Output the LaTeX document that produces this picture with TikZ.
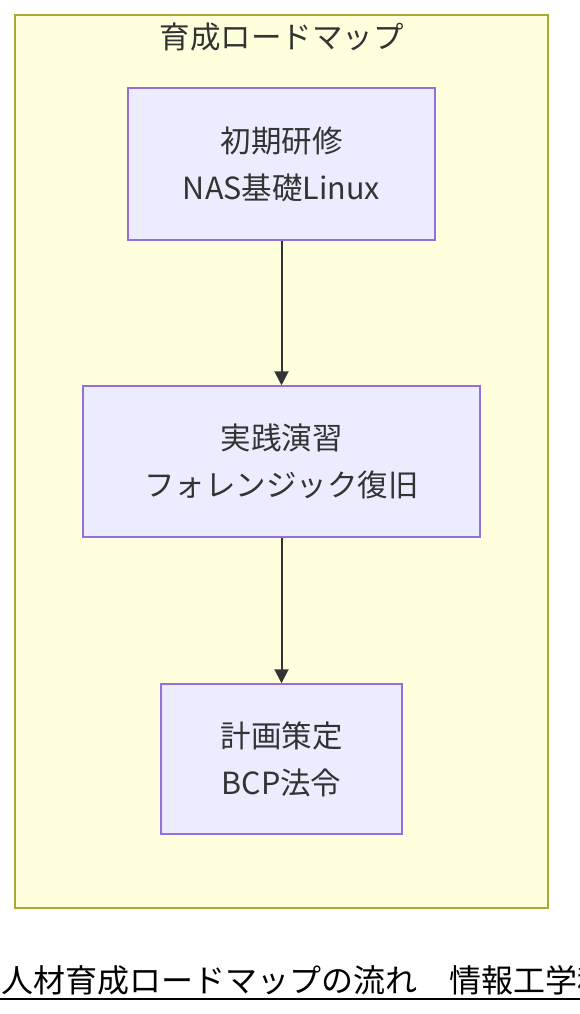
\documentclass[tikz,border=0pt]{standalone}
\usepackage{fontspec}
\setmainfont{Noto Sans CJK JP}
\usetikzlibrary{arrows.meta}
\definecolor{clusterfill}{HTML}{FFFFDE}
\definecolor{clusterline}{HTML}{AAAA33}
\definecolor{boxfill}{HTML}{ECECFF}
\definecolor{boxline}{HTML}{9370DB}
\definecolor{textgray}{HTML}{333333}
\begin{document}
\begin{tikzpicture}[x=1pt, y=-1pt,
	stepbox/.style={draw=boxline, fill=boxfill, line width=1.5pt, text=textgray, align=center,
		font=\fontsize{30.5}{47}\selectfont, inner sep=0pt},
	flow/.style={draw=textgray, line width=2pt, -{Triangle[width=14pt, length=14pt]}}]
	\useasboundingbox (0, 0) rectangle (580, 1014);
	\clip (0, 0) rectangle (580, 1014);
	\draw[line width=1.5pt, draw=clusterline, fill=clusterfill] (15, 15) rectangle (548, 908);
	\node[text=textgray, font=\fontsize{30.5}{36}\selectfont] (roadmap) at (281.5, 37) {育成ロードマップ};
	
	\node[stepbox, minimum width=307pt, minimum height=152pt] (training) at (281.5, 164) {初期研修\\NAS基礎Linux};
	\node[stepbox, minimum width=397pt, minimum height=151pt] (practice) at (281.5, 461.5) {実践演習\\フォレンジック復旧};
	\node[stepbox, minimum width=241pt, minimum height=150pt] (planning) at (281.5, 759) {計画策定\\BCP法令};
	
	\draw[flow] (training) -- (practice);
	\draw[flow] (practice) -- (planning);
	
	\node[anchor=base west, inner sep=0pt, font=\fontsize{32}{38}\selectfont] (caption) at (1, 992) {人材育成ロードマップの流れ　情報工学科};
	\draw[line width=2pt] (0, 999) -- (580, 999);
\end{tikzpicture}
\end{document}
